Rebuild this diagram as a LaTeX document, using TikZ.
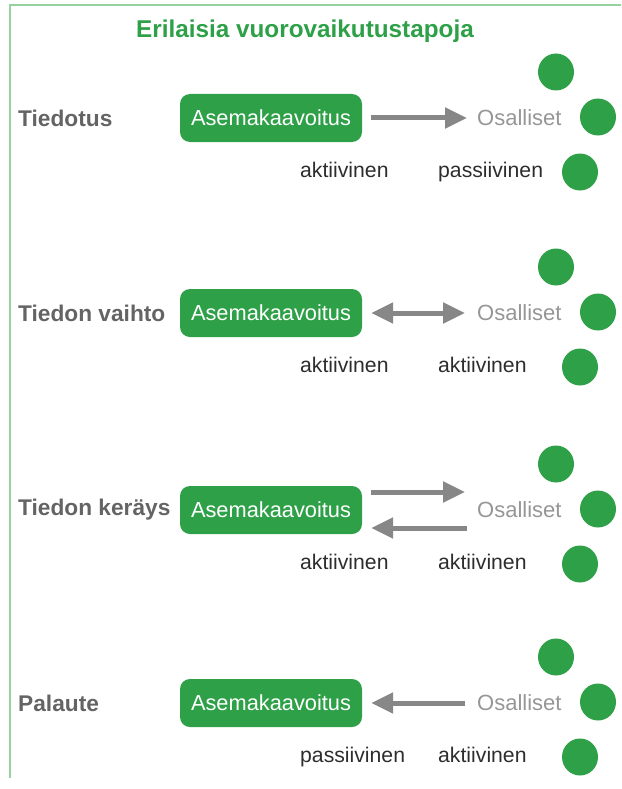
\documentclass[tikz,border=0pt]{standalone}
\usepackage{fontspec}
\setmainfont{Liberation Sans}
\usetikzlibrary{arrows.meta,shapes.geometric}
\definecolor{kgreen}{RGB}{46,160,72}
\definecolor{kframe}{RGB}{150,210,160}
\definecolor{karrow}{RGB}{135,135,135}
\definecolor{kosa}{RGB}{150,150,150}
\definecolor{klabel}{RGB}{100,100,100}
\definecolor{ktext}{RGB}{45,45,45}
\tikzset{
  box/.style={fill=kgreen, rounded corners=10pt, minimum width=182pt, minimum height=48pt,
    inner sep=0pt, text=white, font=\fontsize{21.8}{24}\selectfont},
  osa/.style={anchor=west, inner sep=0pt, text=kosa, font=\fontsize{22}{24}\selectfont},
  rowlabel/.style={anchor=west, inner sep=0pt, text=klabel, font=\bfseries\fontsize{22.7}{24}\selectfont},
  role/.style={anchor=base west, inner sep=0pt, text=ktext, font=\fontsize{21.2}{24}\selectfont},
  dot/.style={fill=kgreen, ellipse, minimum width=36pt, minimum height=37pt, inner sep=0pt},
  head/.tip={Triangle[length=22pt,width=20pt]},
  flow/.style={draw=karrow, line width=5pt, -head},
  flowboth/.style={draw=karrow, line width=5pt, head-head}
}
\begin{document}
\begin{tikzpicture}[x=1pt,y=-1pt]
\useasboundingbox (0,0) rectangle (621,789);
% frame lines at the top and on the left
\draw[kframe, line width=1.5pt] (621,5) -- (10,5) -- (10,778);
% heading
\node[text=kgreen, font=\bfseries\fontsize{24.3}{26}\selectfont, inner sep=0pt] (title) at (305,31) {Erilaisia vuorovaikutustapoja};

% one row per interaction type: label, planning box, participants, dots, roles
\foreach \r/\y/\lab/\ra/\rb in {1/118/Tiedotus/aktiivinen/passiivinen,
                                 2/313/Tiedon vaihto/aktiivinen/aktiivinen,
                                 3/510/Tiedon keräys/aktiivinen/aktiivinen,
                                 4/703/Palaute/passiivinen/aktiivinen}{
  \node[rowlabel] (lab\r) at (18,\y) {\lab};
  \node[box] (box\r) at (271,\y) {Asemakaavoitus};
  \node[osa] (osa\r) at (477,\y) {Osalliset};
  \node[dot] (dota\r) at (556,\y-46) {};
  \node[dot] (dotb\r) at (598,\y-1) {};
  \node[dot] (dotc\r) at (580,\y+54) {};
  \node[role] (rolea\r) at (300,\y+59.5) {\ra};
  \node[role] (roleb\r) at (438,\y+59.5) {\rb};
}

% connectors
\draw[flow] ([xshift=9pt]box1.east) -- ([xshift=-10pt]osa1.west);
\draw[flowboth] ([xshift=9pt]box2.east) -- ([xshift=-12pt]osa2.west);
\draw[flow] ([xshift=9pt,yshift=18pt]box3.east) -- ([xshift=-12pt,yshift=18pt]osa3.west);
\draw[flow] ([xshift=-10pt,yshift=-18pt]osa3.west) -- ([xshift=9pt,yshift=-18pt]box3.east);
\draw[flow] ([xshift=-12pt]osa4.west) -- ([xshift=9pt]box4.east);
\end{tikzpicture}
\end{document}
